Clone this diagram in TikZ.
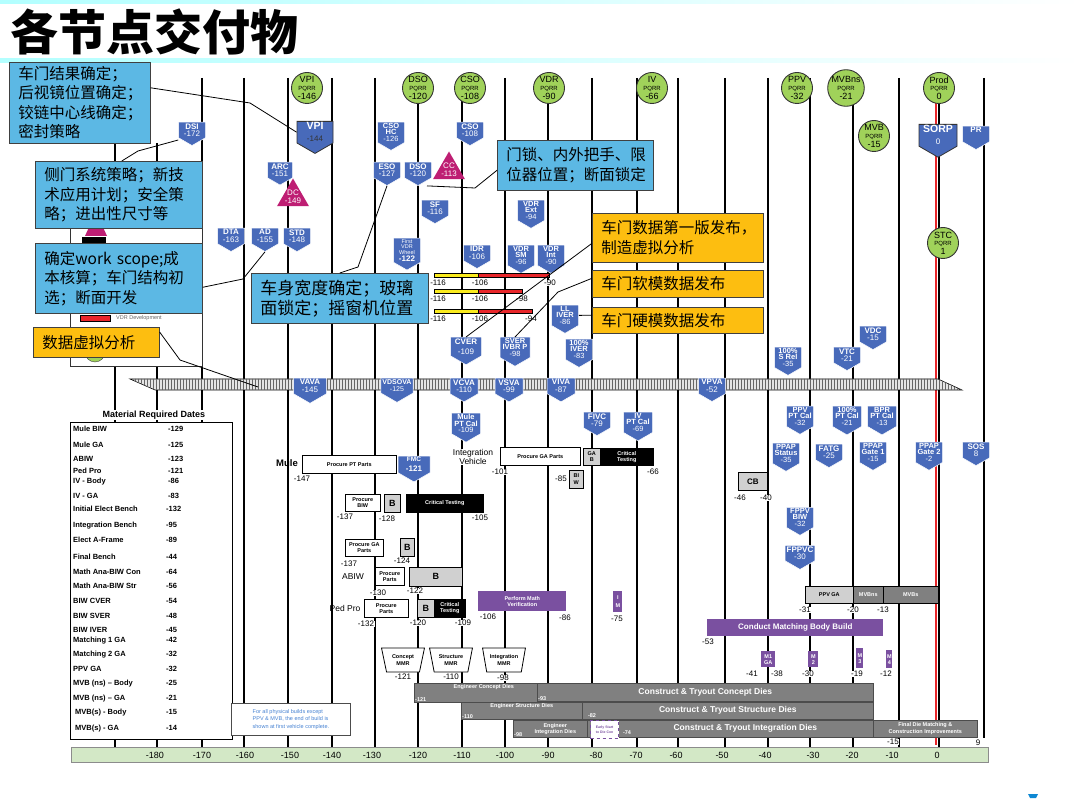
\documentclass[tikz,border=0pt]{standalone}
\usepackage{fontspec}
\setmainfont{Liberation Sans}
\newfontfamily\cjk{Noto Sans CJK SC}
\usetikzlibrary{shapes.symbols,shapes.geometric,patterns,positioning}

\definecolor{gateblue}{RGB}{72,106,186}
\definecolor{pqrrgreen}{RGB}{160,210,90}
\definecolor{calloutblue}{RGB}{92,184,228}
\definecolor{calloutyellow}{RGB}{253,190,16}
\definecolor{trimag}{RGB}{190,30,115}
\definecolor{buildpurple}{RGB}{122,80,160}
\definecolor{diegray}{RGB}{128,128,128}
\definecolor{partgray}{RGB}{208,208,208}
\definecolor{axisgreen}{RGB}{211,232,198}
\definecolor{redline}{RGB}{232,38,42}
\definecolor{vdryellow}{RGB}{250,235,30}
\definecolor{noteblue}{RGB}{70,130,210}

\tikzset{
vline/.style={line width=1.8pt,black},
gate/.style={signal,signal to=south,signal pointer angle=120,fill=gateblue,draw=white,
  line width=0.5pt,text=white,font=\fontsize{8}{7.5}\selectfont\bfseries,align=center,
  inner xsep=1.5pt,inner ysep=1.2pt,minimum width=27pt,anchor=north},
gate3/.style={gate,font=\fontsize{7.5}{6.3}\selectfont\bfseries},
pqrr/.style={circle,fill=pqrrgreen,draw=black!80,line width=0.9pt,minimum size=31pt,
  inner sep=0pt,align=center,font=\fontsize{9}{7.5}\selectfont},
tri/.style={regular polygon,regular polygon sides=3,fill=trimag,inner sep=0pt,minimum size=37pt},
tritext/.style={text=white,font=\fontsize{8}{8}\selectfont,align=center,inner sep=0pt},
callout/.style={draw=black!75,line width=0.6pt,anchor=north west,align=left,
  inner xsep=9pt,inner ysep=0pt,font=\cjk\fontsize{15.5}{19.5}\selectfont},
callline/.style={draw=black,line width=0.8pt},
box/.style={draw=black,line width=0.6pt,anchor=north west,inner sep=0pt,align=center,
  font=\fontsize{5.5}{6}\selectfont\bfseries},
wbox/.style={box,fill=white},
gbox/.style={box,fill=partgray,font=\fontsize{9}{9}\selectfont\bfseries},
kbox/.style={box,fill=black,text=white},
pbox/.style={box,draw=none,fill=buildpurple,text=white},
dbox/.style={box,draw=black!70,fill=diegray,text=white,font=\fontsize{8.5}{8.5}\selectfont\bfseries},
num/.style={font=\fontsize{8}{8}\selectfont,fill=white,inner sep=0.5pt},
mrdrow/.style={anchor=west,font=\fontsize{7.5}{7.5}\selectfont\bfseries,inner sep=0pt},
mmr/.style={trapezium,trapezium stretches=true,shape border rotate=180,
  trapezium left angle=72,trapezium right angle=72,draw=black,line width=0.8pt,fill=white,
  minimum width=43pt,minimum height=24pt,inner sep=0pt,
  font=\fontsize{5.5}{6.5}\selectfont\bfseries,align=center},
axlabel/.style={font=\fontsize{9}{9}\selectfont,inner sep=0pt}
}
\newcommand{\gn}[1]{{\mdseries #1}}
\newcommand{\pqrrtext}[2]{#1\\{\fontsize{6}{6.5}\selectfont PQRR}\\[1.2pt]#2}

\begin{document}
\begin{tikzpicture}[x=1pt,y=-1pt,font=\fontsize{8}{8}\selectfont]

\useasboundingbox (0,0) rectangle (1080,810);
\fill[white] (0,0) rectangle (1080,810);

%%%%%%%%%%%%%%%%%%%%%%%%%%%%%%%%%%%%%%%%%%%%%%%%%%%%%%%%%%%%%%
% HEADER
%%%%%%%%%%%%%%%%%%%%%%%%%%%%%%%%%%%%%%%%%%%%%%%%%%%%%%%%%%%%%%

\fill[left color=cyan!30,right color=white] (0,0) rectangle (1080,4);
\fill[left color=cyan!30,right color=white] (0,59) rectangle (1080,63);

\node[font=\cjk\bfseries\fontsize{48}{48}\selectfont,anchor=west,inner sep=0pt]
(title) at (10,32) {各节点交付物};

%%%%%%%%%%%%%%%%%%%%%%%%%%%%%%%%%%%%%%%%%%%%%%%%%%%%%%%%%%%%%%
% TIME GRID
%%%%%%%%%%%%%%%%%%%%%%%%%%%%%%%%%%%%%%%%%%%%%%%%%%%%%%%%%%%%%%

\draw[vline] (115,143)--(115,748) (157,143)--(157,748) (202,78)--(202,748)
(244,78)--(244,748) (288,78)--(288,748) (332,78)--(332,748) (375,78)--(375,748)
(418,78)--(418,748) (462,78)--(462,748) (505,78)--(505,748) (548,78)--(548,748)
(592,78)--(592,748) (637,78)--(637,748) (678,78)--(678,748) (725,78)--(725,748)
(768,78)--(768,748) (810,78)--(810,748) (853,78)--(853,748) (899,78)--(899,748)
(939,78)--(939,748) (984,78)--(984,738);

\draw[line width=1.6pt,redline] (936,100)--(936,745);

%%%%%%%%%%%%%%%%%%%%%%%%%%%%%%%%%%%%%%%%%%%%%%%%%%%%%%%%%%%%%%
% LEGEND (MOSTLY COVERED)
%%%%%%%%%%%%%%%%%%%%%%%%%%%%%%%%%%%%%%%%%%%%%%%%%%%%%%%%%%%%%%

\node[draw=black!80,fill=white,line width=0.8pt,minimum width=132pt,minimum height=166pt,
anchor=north west] (legend) at (70,200) {};

\fill[trimag] (96,212)--(107,236)--(85,236)--cycle;
\fill[black] (82,237) rectangle (106,246);
\filldraw[draw=black,line width=0.4pt,fill=redline] (80,315) rectangle (110,321);
\node[anchor=west,font=\fontsize{5.5}{5.5}\selectfont,text=black!60,inner sep=0pt]
(vdrdev) at (116,318) {VDR Development};
\node[circle,fill=pqrrgreen,draw=black!75,minimum size=20pt,inner sep=0pt]
(legcircle) at (95,352) {};

%%%%%%%%%%%%%%%%%%%%%%%%%%%%%%%%%%%%%%%%%%%%%%%%%%%%%%%%%%%%%%
% VEHICLE BUILD BAND
%%%%%%%%%%%%%%%%%%%%%%%%%%%%%%%%%%%%%%%%%%%%%%%%%%%%%%%%%%%%%%

\filldraw[draw=black,line width=0.6pt,fill=gray!20,
postaction={pattern=vertical lines,pattern color=black!60}]
(130,379)--(938,379)--(962,390)--(155,390)--cycle;

%%%%%%%%%%%%%%%%%%%%%%%%%%%%%%%%%%%%%%%%%%%%%%%%%%%%%%%%%%%%%%
% PQRR MILESTONES
%%%%%%%%%%%%%%%%%%%%%%%%%%%%%%%%%%%%%%%%%%%%%%%%%%%%%%%%%%%%%%

\node[pqrr] (pvpi) at (307,88) {\pqrrtext{VPI}{-146}};
\node[pqrr] (pdso) at (418,88) {\pqrrtext{DSO}{-120}};
\node[pqrr] (pcso) at (470,88) {\pqrrtext{CSO}{-108}};
\node[pqrr] (pvdr) at (549,88) {\pqrrtext{VDR}{-90}};
\node[pqrr] (piv) at (652,88) {\pqrrtext{IV}{-66}};
\node[pqrr] (pppv) at (797,88) {\pqrrtext{PPV}{-32}};
\node[pqrr] (pmvbns) at (846,88) {\pqrrtext{MVBns}{-21}};
\node[pqrr] (pmvb) at (874,136) {\pqrrtext{MVB}{-15}};
\node[pqrr] (pprod) at (939,88) {\pqrrtext{Prod}{0}};
\node[pqrr] (pstc) at (943,243) {\pqrrtext{STC}{1}};

%%%%%%%%%%%%%%%%%%%%%%%%%%%%%%%%%%%%%%%%%%%%%%%%%%%%%%%%%%%%%%
% GATES ABOVE THE BAND
%%%%%%%%%%%%%%%%%%%%%%%%%%%%%%%%%%%%%%%%%%%%%%%%%%%%%%%%%%%%%%

\node[gate] (dsi) at (192,122) {DSI\\\gn{-172}};
\node[gate,draw=black!80,line width=0.8pt,minimum width=36pt,
font=\fontsize{10.5}{9}\selectfont\bfseries] (vpi) at (315,121)
{VPI\\[3pt]{\fontsize{8}{8}\selectfont\mdseries\color{black!80}-144}};
\node[gate3] (csohc) at (391,122) {CSO\\HC\\\gn{-126}};
\node[gate] (cso) at (470,122) {CSO\\\gn{-108}};
\node[gate,minimum width=25pt] (arc) at (280,162) {ARC\\\gn{-151}};
\node[gate] (eso) at (387,162) {ESO\\\gn{-127}};
\node[gate] (dso) at (418,162) {DSO\\\gn{-120}};
\node[gate] (sf) at (435,200) {SF\\\gn{-116}};
\node[gate3] (vdrext) at (531,200) {VDR\\Ext\\\gn{-94}};
\node[gate] (dta) at (231,228) {DTA\\\gn{-163}};
\node[gate] (ad) at (265,228) {AD\\\gn{-155}};
\node[gate] (std) at (297,228) {STD\\\gn{-148}};
\node[gate,font=\fontsize{5.5}{5.5}\selectfont\mdseries] (fvdr) at (407,238)
{First\\VDR\\Wheel\\{\fontsize{8}{8}\selectfont\bfseries -122}};
\node[gate] (idr) at (477,245) {IDR\\\gn{-106}};
\node[gate3] (vdrsm) at (521,245) {VDR\\SM\\\gn{-96}};
\node[gate3] (vdrint) at (551,245) {VDR\\Int\\\gn{-90}};
\node[gate3] (lliver) at (565,305) {LL\\IVER\\\gn{-86}};
\node[gate3] (iver) at (579,339) {100\%\\IVER\\\gn{-83}};
\node[gate,minimum width=31pt] (cver) at (466,337) {CVER\\[3pt]\gn{-109}};
\node[gate3,minimum width=30pt] (sver) at (515,337) {SVER\\IVBR P\\\gn{-98}};
\node[gate3] (srel) at (788,347) {100\%\\S Rel\\\gn{-35}};
\node[gate] (vdc) at (873,326) {VDC\\\gn{-15}};
\node[gate] (vtc) at (847,347) {VTC\\\gn{-21}};
\node[gate,draw=black!80,line width=0.8pt,minimum width=38pt,
font=\fontsize{10.5}{9}\selectfont\bfseries] (sorp) at (938,124)
{SORP\\[3pt]{\fontsize{8}{8}\selectfont\mdseries 0}};
\node[gate] (pr) at (976,126) {PR\\\phantom{0}};

\node[tri] (dc) at (293,197) {};
\node[tritext] (dct) at (dc.center) {DC\\-149};
\node[tri] (cc) at (449,170) {};
\node[tritext] (cct) at (cc.center) {CC\\-113};

%%%%%%%%%%%%%%%%%%%%%%%%%%%%%%%%%%%%%%%%%%%%%%%%%%%%%%%%%%%%%%
% VDR DATA RELEASE BARS
%%%%%%%%%%%%%%%%%%%%%%%%%%%%%%%%%%%%%%%%%%%%%%%%%%%%%%%%%%%%%%

\filldraw[draw=black,line width=0.4pt,fill=vdryellow] (434,273) rectangle (478,277);
\filldraw[draw=black,line width=0.4pt,fill=redline] (478,273) rectangle (549,277);
\filldraw[draw=black,line width=0.4pt,fill=vdryellow] (434,289) rectangle (478,293);
\filldraw[draw=black,line width=0.4pt,fill=redline] (478,289) rectangle (522,293);
\filldraw[draw=black,line width=0.4pt,fill=vdryellow] (434,309) rectangle (478,313);
\filldraw[draw=black,line width=0.4pt,fill=redline] (478,309) rectangle (532,313);

\node[num] (r1a) at (438,283) {-116};
\node[num] (r1b) at (480,283) {-106};
\node[num] (r1c) at (550,283) {-90};
\node[num] (r2a) at (438,299) {-116};
\node[num] (r2b) at (480,299) {-106};
\node[num] (r2c) at (522,299) {-98};
\node[num] (r3a) at (438,319) {-116};
\node[num] (r3b) at (480,319) {-106};
\node[num] (r3c) at (531,319) {-94};

%%%%%%%%%%%%%%%%%%%%%%%%%%%%%%%%%%%%%%%%%%%%%%%%%%%%%%%%%%%%%%
% GATES ON AND BELOW THE BAND
%%%%%%%%%%%%%%%%%%%%%%%%%%%%%%%%%%%%%%%%%%%%%%%%%%%%%%%%%%%%%%

\node[gate,minimum width=33pt] (vava) at (310,378) {VAVA\\\gn{-145}};
\node[gate,minimum width=32pt,font=\fontsize{7}{7.5}\selectfont\bfseries] (vdsova) at (397,378) {VDSOVA\\\gn{-125}};
\node[gate,minimum width=28pt] (vcva) at (464,378) {VCVA\\\gn{-110}};
\node[gate,minimum width=28pt] (vsva) at (509,378) {VSVA\\\gn{-99}};
\node[gate,minimum width=28pt] (viva) at (561,378) {VIVA\\\gn{-87}};
\node[gate,minimum width=27pt] (vpva) at (712,378) {VPVA\\\gn{-52}};

\node[gate3,minimum width=29pt] (mulept) at (466,413) {Mule\\PT Cal\\\gn{-109}};
\node[gate,minimum width=32pt] (fmc) at (414,456)
{{\fontsize{6.5}{8}\selectfont FMC}\\[2pt]-121};
\node[gate] (fivc) at (597,412) {FIVC\\\gn{-79}};
\node[gate3,minimum width=29pt] (ivpt) at (638,412) {IV\\PT Cal\\\gn{-69}};
\node[gate3] (ppvpt) at (800,406) {PPV\\PT Cal\\\gn{-32}};
\node[gate3] (ppaps) at (786,443) {PPAP\\Status\\\gn{-35}};
\node[gate3] (fppvbiw) at (800,507) {FPPV\\BIW\\\gn{-32}};
\node[gate] (fppvc) at (800,545) {FPPVC\\\gn{-30}};
\node[gate3,minimum width=29pt] (ptcal) at (847,406) {100\%\\PT Cal\\\gn{-21}};
\node[gate3,minimum width=29pt] (bpr) at (882,406) {BPR\\PT Cal\\\gn{-13}};
\node[gate] (fatg) at (829,444) {FATG\\\gn{-25}};
\node[gate3] (gate1) at (873,442) {PPAP\\Gate 1\\\gn{-15}};
\node[gate3] (gate2) at (929,442) {PPAP\\Gate 2\\\gn{-2}};
\node[gate] (sos) at (976,442) {SOS\\\gn{8}};

%%%%%%%%%%%%%%%%%%%%%%%%%%%%%%%%%%%%%%%%%%%%%%%%%%%%%%%%%%%%%%
% MATERIAL REQUIRED DATES
%%%%%%%%%%%%%%%%%%%%%%%%%%%%%%%%%%%%%%%%%%%%%%%%%%%%%%%%%%%%%%

\node[font=\fontsize{9}{9}\selectfont\bfseries,fill=white,inner sep=1pt]
(mrdtitle) at (154,415) {Material Required Dates};

\node[draw,line width=1.2pt,fill=white,minimum width=162pt,minimum height=317pt,
anchor=north west] (mrd) at (70,422) {};

\node[mrdrow] (m01) at (73,429) {\makebox[95pt][l]{Mule BIW}-129};
\node[mrdrow] (m02) at (73,445) {\makebox[95pt][l]{Mule GA}-125};
\node[mrdrow] (m03) at (73,459) {\makebox[95pt][l]{ABIW}-123};
\node[mrdrow] (m04) at (73,471) {\makebox[95pt][l]{Ped Pro}-121};
\node[mrdrow] (m05) at (73,482) {\makebox[95pt][l]{IV - Body}-86};
\node[mrdrow] (m06) at (73,496) {\makebox[95pt][l]{IV - GA}-83};
\node[mrdrow] (m07) at (73,509) {\makebox[93pt][l]{Initial Elect Bench}-132};
\node[mrdrow] (m08) at (73,526) {\makebox[93pt][l]{Integration Bench}-95};
\node[mrdrow] (m09) at (73,540) {\makebox[93pt][l]{Elect A-Frame}-89};
\node[mrdrow] (m10) at (73,557) {\makebox[93pt][l]{Final Bench}-44};
\node[mrdrow] (m11) at (73,572) {\makebox[93pt][l]{Math Ana-BIW Con}-64};
\node[mrdrow] (m12) at (73,586) {\makebox[93pt][l]{Math Ana-BIW Str}-56};
\node[mrdrow] (m13) at (73,601) {\makebox[93pt][l]{BIW CVER}-54};
\node[mrdrow] (m14) at (73,616) {\makebox[93pt][l]{BIW SVER}-48};
\node[mrdrow] (m15) at (73,630) {\makebox[93pt][l]{BIW IVER}-45};
\node[mrdrow] (m16) at (73,641) {\makebox[93pt][l]{Matching 1 GA}-42};
\node[mrdrow] (m17) at (73,655) {\makebox[93pt][l]{Matching 2 GA}-32};
\node[mrdrow] (m18) at (73,669) {\makebox[93pt][l]{PPV GA}-32};
\node[mrdrow] (m19) at (73,684) {\makebox[93pt][l]{MVB (ns) -- Body}-25};
\node[mrdrow] (m20) at (73,699) {\makebox[93pt][l]{MVB (ns) -- GA}-21};
\node[mrdrow] (m21) at (75,713) {\makebox[91pt][l]{MVB(s) - Body}-15};
\node[mrdrow] (m22) at (75,729) {\makebox[91pt][l]{MVB(s) - GA}-14};

\node[draw=black!70,line width=0.8pt,fill=white,text=noteblue,anchor=north west,
font=\fontsize{5.5}{7.5}\selectfont,align=left,inner xsep=2pt,minimum width=119pt,
minimum height=32pt] (note) at (231,703)
{For all physical builds except\\PPV \& MVB, the end of build is\\shown at first vehicle complete.};

%%%%%%%%%%%%%%%%%%%%%%%%%%%%%%%%%%%%%%%%%%%%%%%%%%%%%%%%%%%%%%
% PHYSICAL BUILDS
%%%%%%%%%%%%%%%%%%%%%%%%%%%%%%%%%%%%%%%%%%%%%%%%%%%%%%%%%%%%%%

\node[font=\fontsize{9.5}{9.5}\selectfont\bfseries,inner sep=0pt] (mule) at (287,463) {Mule};
\node[wbox,minimum width=94pt,minimum height=18pt] (ppt) at (302,455) {Procure PT Parts};
\node[num] (n147) at (302,479) {-147};

\node[wbox,minimum width=35pt,minimum height=17pt] (pbiw) at (345,494) {Procure\\BIW};
\node[gbox,minimum width=16pt,minimum height=18pt] (bbiw) at (384,494) {B};
\node[kbox,minimum width=77pt,minimum height=18pt] (ct1) at (406,494) {Critical Testing};
\node[num] (n137a) at (345,517) {-137};
\node[num] (n128) at (387,519) {-128};
\node[num] (n105) at (480,518) {-105};

\node[wbox,minimum width=38pt,minimum height=17pt] (pga) at (345,539) {Procure GA\\Parts};
\node[gbox,minimum width=14pt,minimum height=18pt] (bga) at (400,538) {B};
\node[num] (n137b) at (349,564) {-137};
\node[num] (n124) at (402,561) {-124};

\node[font=\fontsize{8.5}{8.5}\selectfont,inner sep=0pt] (abiw) at (353,577) {ABIW};
\node[wbox,minimum width=29pt,minimum height=18pt] (pp1) at (375,567) {Procure\\Parts};
\node[gbox,minimum width=53pt,minimum height=19pt] (babiw) at (409,567) {B};
\node[num] (n130) at (378,593) {-130};
\node[num] (n122) at (415,591) {-122};

\node[font=\fontsize{8.5}{8.5}\selectfont,inner sep=0pt] (pedpro) at (345,608) {Ped Pro};
\node[wbox,minimum width=44pt,minimum height=18pt] (pp2) at (364,599) {Procure\\Parts};
\node[gbox,minimum width=17pt,minimum height=18pt] (bped) at (417,599) {B};
\node[kbox,minimum width=31pt,minimum height=18pt] (ct2) at (434,599) {Critical\\Testing};
\node[num] (n132) at (366,624) {-132};
\node[num] (n120) at (418,623) {-120};
\node[num] (n109) at (463,623) {-109};

\node[font=\fontsize{8.5}{9.5}\selectfont,fill=white,inner sep=0pt,align=center]
(ivlabel) at (473,457) {Integration\\Vehicle};
\node[wbox,minimum width=80pt,minimum height=18pt] (pga2) at (500,447) {Procure GA Parts};
\node[num] (n101) at (500,472) {-101};
\node[gbox,font=\fontsize{5.5}{6.5}\selectfont\bfseries,minimum width=17pt,
minimum height=17pt] (gab) at (583,448) {GA\\B};
\node[kbox,minimum width=53pt,minimum height=17pt] (ct3) at (600,448) {Critical\\Testing};
\node[num] (n66) at (653,472) {-66};
\node[num] (n85) at (561,479) {-85};
\node[gbox,font=\fontsize{5.5}{6.5}\selectfont\bfseries,minimum width=14pt,
minimum height=18pt] (biw) at (569,470) {BI\\W};

\node[gbox,font=\fontsize{8}{8}\selectfont\bfseries,minimum width=29pt,minimum height=18pt]
(cb) at (738,472) {CB};
\node[num] (n46) at (740,498) {-46};
\node[num] (n40) at (766,498) {-40};

%%%%%%%%%%%%%%%%%%%%%%%%%%%%%%%%%%%%%%%%%%%%%%%%%%%%%%%%%%%%%%
% MATH VERIFICATION AND MATCHING
%%%%%%%%%%%%%%%%%%%%%%%%%%%%%%%%%%%%%%%%%%%%%%%%%%%%%%%%%%%%%%

\node[pbox,minimum width=88pt,minimum height=20pt] (pmv) at (478,591) {Perform Math\\Verification};
\node[num] (n106) at (488,617) {-106};
\node[num] (n86) at (565,618) {-86};
\node[pbox,minimum width=9pt,minimum height=21pt] (im) at (613,591) {I\\[2pt]M};
\node[num] (n75) at (617,619) {-75};

\node[pbox,font=\fontsize{8}{8}\selectfont\bfseries,minimum width=176pt,minimum height=17pt]
(cmbb) at (707,619) {Conduct Matching Body Build};
\node[num] (n53) at (708,642) {-53};

\node[box,fill=partgray,minimum width=48pt,minimum height=17pt] (ppvga) at (805,586) {PPV GA};
\node[box,fill=diegray,text=white,minimum width=30pt,minimum height=17pt] (mvbns) at (853,586) {MVBns};
\node[box,fill=diegray,text=white,minimum width=55pt,minimum height=17pt] (mvbs) at (883,586) {MVBs};
\node[num] (n31) at (805,610) {-31};
\node[num] (n20) at (853,610) {-20};
\node[num] (n13) at (883,610) {-13};

\node[pbox,minimum width=14pt,minimum height=16pt] (m1) at (761,651) {M1\\GA};
\node[pbox,minimum width=10pt,minimum height=16pt] (m2) at (808,651) {M\\2};
\node[pbox,minimum width=7pt,minimum height=20pt] (m3) at (856,648) {M\\3};
\node[pbox,minimum width=6pt,minimum height=18pt] (m4) at (886,650) {M\\4};
\node[num] (n41) at (752,674) {-41};
\node[num] (n38) at (777,674) {-38};
\node[num] (n30) at (808,674) {-30};
\node[num] (n19) at (857,674) {-19};
\node[num] (n12) at (886,674) {-12};

%%%%%%%%%%%%%%%%%%%%%%%%%%%%%%%%%%%%%%%%%%%%%%%%%%%%%%%%%%%%%%
% DIES
%%%%%%%%%%%%%%%%%%%%%%%%%%%%%%%%%%%%%%%%%%%%%%%%%%%%%%%%%%%%%%

\node[mmr] (cmmr) at (403,660) {Concept\\MMR};
\node[mmr] (smmr) at (451,660) {Structure\\MMR};
\node[mmr] (immr) at (504,660) {Integration\\MMR};
\node[num] (n121b) at (403,677) {-121};
\node[num] (n110b) at (451,677) {-110};
\node[num] (n98b) at (503,678) {-98};

\node[dbox,minimum width=123pt,minimum height=19pt] (ecd) at (414,683) {};
\node[text=white,font=\fontsize{5.5}{6}\selectfont\bfseries,inner sep=1pt,anchor=north]
(ecdt) at ([xshift=8pt]ecd.north) {Engineer Concept Dies};
\node[text=white,font=\fontsize{5.5}{6}\selectfont\bfseries,inner sep=1pt,anchor=south west]
(ecdn) at (ecd.south west) {-121};
\node[dbox,minimum width=336pt,minimum height=18pt] (ctcd) at (537,683)
{Construct \& Tryout Concept Dies};
\node[text=white,font=\fontsize{5.5}{6}\selectfont\bfseries,inner sep=1pt,anchor=south west]
(ctcdn) at (ctcd.south west) {-93};

\node[dbox,minimum width=121pt,minimum height=17pt] (esd) at (461,702) {};
\node[text=white,font=\fontsize{5.5}{6}\selectfont\bfseries,inner sep=1pt,anchor=north]
(esdt) at (esd.north) {Engineer Structure Dies};
\node[text=white,font=\fontsize{5.5}{6}\selectfont\bfseries,inner sep=1pt,anchor=south west]
(esdn) at (esd.south west) {-110};
\node[dbox,minimum width=291pt,minimum height=17pt] (ctsd) at (582,702)
{Construct \& Tryout Structure Dies};

\node[dbox,minimum width=74pt,minimum height=17pt] (eid) at (513,720) {};
\node[text=white,font=\fontsize{5.5}{6}\selectfont\bfseries,inner sep=1pt,align=center]
(eidt) at ([xshift=5pt]eid.center) {Engineer\\Integration Dies};
\node[text=white,font=\fontsize{5.5}{6}\selectfont\bfseries,inner sep=1pt,anchor=south west]
(eidn) at (eid.south west) {-98};
\node[dbox,minimum width=286pt,minimum height=17pt] (ctid) at (587,720)
{\hspace*{30pt}Construct \& Tryout Integration Dies};
\node[dbox,font=\fontsize{5.5}{7}\selectfont\bfseries,minimum width=104pt,minimum height=17pt]
(fdm) at (873,720) {Final Die Matching \&\\Construction Improvements};

\node[box,draw=buildpurple,dashed,line width=1.2pt,fill=white,text=buildpurple,
font=\fontsize{3.5}{5}\selectfont\bfseries,minimum width=28pt,minimum height=18pt]
(early) at (590,720) {Early Start\\to Die Con};
\node[text=white,font=\fontsize{5.5}{6}\selectfont\bfseries,inner sep=0.5pt]
(n82) at (592,716) {-82};
\node[text=white,font=\fontsize{5.5}{6}\selectfont\bfseries,inner sep=0.5pt]
(n74) at (627,733) {-74};

\node[num] (n15b) at (893,742) {-15};
\node[num] (n9) at (978,743) {9};

%%%%%%%%%%%%%%%%%%%%%%%%%%%%%%%%%%%%%%%%%%%%%%%%%%%%%%%%%%%%%%
% TIME AXIS
%%%%%%%%%%%%%%%%%%%%%%%%%%%%%%%%%%%%%%%%%%%%%%%%%%%%%%%%%%%%%%

\node[draw=black!45,fill=axisgreen,line width=0.6pt,minimum width=917pt,minimum height=15pt,
anchor=north west] (axis) at (71,747) {};

\node[axlabel] (a180) at (155,755) {-180};
\node[axlabel] (a170) at (202,755) {-170};
\node[axlabel] (a160) at (245,755) {-160};
\node[axlabel] (a150) at (290,755) {-150};
\node[axlabel] (a140) at (332,755) {-140};
\node[axlabel] (a130) at (372,755) {-130};
\node[axlabel] (a120) at (418,755) {-120};
\node[axlabel] (a110) at (462,755) {-110};
\node[axlabel] (a100) at (505,755) {-100};
\node[axlabel] (a90) at (548,755) {-90};
\node[axlabel] (a80) at (596,755) {-80};
\node[axlabel] (a70) at (636,755) {-70};
\node[axlabel] (a60) at (676,755) {-60};
\node[axlabel] (a50) at (722,755) {-50};
\node[axlabel] (a40) at (765,755) {-40};
\node[axlabel] (a30) at (813,755) {-30};
\node[axlabel] (a20) at (852,755) {-20};
\node[axlabel] (a10) at (892,755) {-10};
\node[axlabel] (a0) at (937,755) {0};

\fill[cyan!70!blue] (1028,794)--(1038,794)--(1036,798)--(1030,798)--cycle;

%%%%%%%%%%%%%%%%%%%%%%%%%%%%%%%%%%%%%%%%%%%%%%%%%%%%%%%%%%%%%%
% CALLOUTS
%%%%%%%%%%%%%%%%%%%%%%%%%%%%%%%%%%%%%%%%%%%%%%%%%%%%%%%%%%%%%%

\node[callout,fill=calloutblue,text width=123pt,minimum height=81pt] (b1) at (9,62)
{车门结果确定；\\后视镜位置确定；\\铰链中心线确定；\\密封策略};
\node[callout,fill=calloutblue,text width=149pt,minimum height=67pt] (b2) at (35,161)
{侧门系统策略；新技\\术应用计划；安全策\\略；进出性尺寸等};
\node[callout,fill=calloutblue,text width=149pt,minimum height=70pt] (b3) at (35,243)
{确定work scope;成\\本核算；车门结构初\\选；断面开发};
\node[callout,fill=calloutyellow,text width=108pt,minimum height=30pt] (b4) at (33,327)
{数据虚拟分析};
\node[callout,fill=calloutblue,text width=159pt,minimum height=50pt,
font=\cjk\fontsize{17}{20}\selectfont] (b5) at (251,273)
{车身宽度确定；玻璃\\面锁定；摇窗机位置};
\node[callout,fill=calloutblue,text width=138pt,minimum height=50pt,
font=\cjk\fontsize{15.5}{20}\selectfont] (b6) at (497,140)
{门锁、内外把手、限\\位器位置；断面锁定};
\node[callout,fill=calloutyellow,text width=153pt,minimum height=49pt] (b7) at (592,213)
{车门数据第一版发布，\\制造虚拟分析};
\node[callout,fill=calloutyellow,text width=153pt,minimum height=27pt] (b8) at (592,270)
{车门软模数据发布};
\node[callout,fill=calloutyellow,text width=153pt,minimum height=26pt] (b9) at (592,307)
{车门硬模数据发布};

%%%%%%%%%%%%%%%%%%%%%%%%%%%%%%%%%%%%%%%%%%%%%%%%%%%%%%%%%%%%%%
% CONNECTIONS
%%%%%%%%%%%%%%%%%%%%%%%%%%%%%%%%%%%%%%%%%%%%%%%%%%%%%%%%%%%%%%

\coordinate (k1) at (250,103);
\coordinate (k2) at (138,151);
\coordinate (k3) at (243,279);
\coordinate (k4) at (180,360);
\coordinate (k4e) at (258,387);
\coordinate (k5) at (358,267);
\coordinate (k6) at (475,188);
\coordinate (k8) at (558,292);

\draw[callline] ([yshift=15pt]b1.east)--(k1)--(vpi.west);
\draw[callline] ([xshift=3pt]b2.north)--(k2)--([yshift=-10pt]dsi.west);
\draw[callline] ([yshift=-9pt]b3.east)--(k3)--(ad.south);
\draw[callline] ([yshift=-5pt]b4.north east)--(k4)--(k4e);
\draw[callline] (b5.north)--(k5)--(eso.south);
\draw[callline] ([xshift=9pt]dso.south)--(k6)--([yshift=-5pt]b6.west);
\draw[callline] ([yshift=-5.5pt]b7.west)--(cver.north);
\draw[callline] ([yshift=5.5pt]b8.west)--(k8)--(sver.north);
\draw[callline] ([yshift=5pt]b9.west)--(lliver.east);

\end{tikzpicture}
\end{document}
